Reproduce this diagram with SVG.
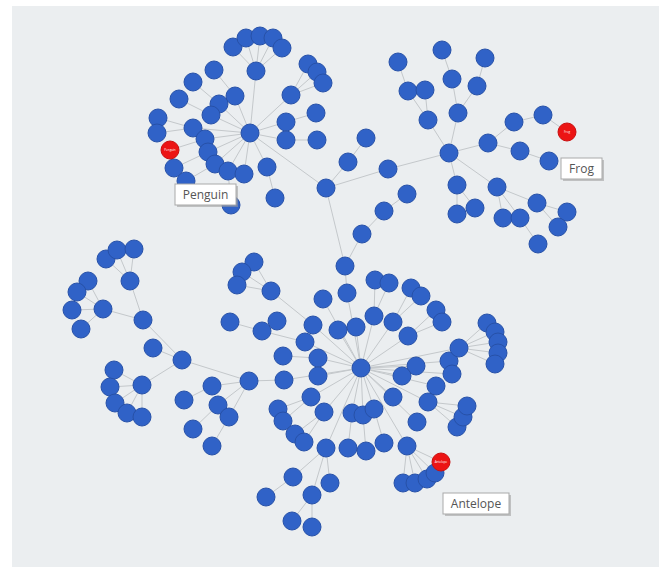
<svg xmlns="http://www.w3.org/2000/svg" width="665" height="567" viewBox="0 0 665 567">
<style>
.bg{fill:#ebeef0}
.edges line{stroke:#c4c8cb;stroke-width:1}
.node circle{fill:#3062c7;stroke:#2751a8;stroke-width:1}
.red circle{fill:#ec1414;stroke:#c90f0f;stroke-width:1}
.tiny{font-family:"Open Sans","Liberation Sans",sans-serif;font-size:3px;fill:#fff;text-anchor:middle}
.lbl rect.box{fill:#fff;stroke:#a9a9a9;stroke-width:1}
.lbl rect.sh{fill:#9a9a9a;opacity:0.55}
.lbl text{font-family:"Open Sans","Liberation Sans",sans-serif;font-size:12px;fill:#555;text-anchor:middle}
</style>
<rect x="0" y="0" width="665" height="567" fill="#fff"/>
<rect class="bg" x="12" y="6" width="647" height="561"/>
<g id="connectors" class="edges">
<line x1="250" y1="133" x2="256" y2="71"/><line x1="256" y1="71" x2="233" y2="47"/><line x1="256" y1="71" x2="246" y2="38"/><line x1="256" y1="71" x2="260" y2="36"/><line x1="256" y1="71" x2="273" y2="38"/><line x1="256" y1="71" x2="282" y2="48"/>
<line x1="250" y1="133" x2="291" y2="95"/><line x1="291" y1="95" x2="308" y2="64"/><line x1="291" y1="95" x2="317" y2="72"/><line x1="291" y1="95" x2="323" y2="83"/>
<line x1="250" y1="133" x2="286" y2="122"/><line x1="286" y1="122" x2="316" y2="113"/><line x1="250" y1="133" x2="286" y2="140"/><line x1="286" y1="140" x2="317" y2="140"/>
<line x1="250" y1="133" x2="235" y2="96"/><line x1="235" y1="96" x2="214" y2="70"/><line x1="250" y1="133" x2="219" y2="104"/><line x1="219" y1="104" x2="193" y2="82"/>
<line x1="250" y1="133" x2="211" y2="115"/><line x1="211" y1="115" x2="179" y2="99"/><line x1="250" y1="133" x2="193" y2="128"/><line x1="193" y1="128" x2="158" y2="118"/><line x1="193" y1="128" x2="157" y2="133"/>
<line x1="250" y1="133" x2="205" y2="139"/><line x1="205" y1="139" x2="170" y2="150"/><line x1="250" y1="133" x2="208" y2="152"/><line x1="208" y1="152" x2="174" y2="168"/>
<line x1="250" y1="133" x2="215" y2="164"/><line x1="215" y1="164" x2="186" y2="181"/><line x1="250" y1="133" x2="228" y2="171"/><line x1="228" y1="171" x2="231" y2="205"/>
<line x1="250" y1="133" x2="244" y2="174"/><line x1="250" y1="133" x2="267" y2="167"/><line x1="267" y1="167" x2="275" y2="198"/>
<line x1="250" y1="133" x2="326" y2="188"/><line x1="326" y1="188" x2="348" y2="162"/><line x1="348" y1="162" x2="366" y2="138"/><line x1="326" y1="188" x2="388" y2="169"/><line x1="388" y1="169" x2="449" y2="153"/>
<line x1="326" y1="188" x2="345" y2="266"/><line x1="345" y1="266" x2="362" y2="234"/><line x1="362" y1="234" x2="384" y2="211"/><line x1="384" y1="211" x2="407" y2="194"/><line x1="345" y1="266" x2="347" y2="293"/><line x1="347" y1="293" x2="361" y2="368"/>
<line x1="449" y1="153" x2="428" y2="120"/><line x1="428" y1="120" x2="408" y2="91"/><line x1="428" y1="120" x2="425" y2="90"/><line x1="408" y1="91" x2="398" y2="62"/>
<line x1="449" y1="153" x2="458" y2="113"/><line x1="458" y1="113" x2="452" y2="79"/><line x1="452" y1="79" x2="442" y2="50"/><line x1="458" y1="113" x2="477" y2="86"/><line x1="477" y1="86" x2="485" y2="58"/>
<line x1="449" y1="153" x2="488" y2="143"/><line x1="488" y1="143" x2="514" y2="122"/><line x1="514" y1="122" x2="543" y2="115"/><line x1="543" y1="115" x2="567" y2="132"/><line x1="488" y1="143" x2="520" y2="151"/><line x1="520" y1="151" x2="549" y2="161"/>
<line x1="449" y1="153" x2="457" y2="185"/><line x1="457" y1="185" x2="457" y2="214"/><line x1="457" y1="185" x2="475" y2="208"/>
<line x1="449" y1="153" x2="497" y2="187"/><line x1="497" y1="187" x2="503" y2="218"/><line x1="497" y1="187" x2="520" y2="218"/><line x1="497" y1="187" x2="537" y2="203"/><line x1="537" y1="203" x2="567" y2="212"/><line x1="537" y1="203" x2="558" y2="227"/><line x1="520" y1="218" x2="538" y2="244"/>
<line x1="254" y1="262" x2="271" y2="291"/><line x1="242" y1="272" x2="271" y2="291"/><line x1="237" y1="285" x2="271" y2="291"/><line x1="271" y1="291" x2="313" y2="325"/><line x1="313" y1="325" x2="361" y2="368"/>
<line x1="230" y1="322" x2="262" y2="331"/><line x1="277" y1="321" x2="262" y2="331"/><line x1="262" y1="331" x2="305" y2="342"/><line x1="305" y1="342" x2="361" y2="368"/>
<line x1="323" y1="299" x2="361" y2="368"/><line x1="338" y1="330" x2="361" y2="368"/><line x1="356" y1="327" x2="361" y2="368"/>
<line x1="283" y1="356" x2="318" y2="358"/><line x1="318" y1="358" x2="361" y2="368"/><line x1="318" y1="376" x2="361" y2="368"/>
<line x1="284" y1="380" x2="361" y2="368"/><line x1="249" y1="381" x2="284" y2="380"/>
<line x1="311" y1="397" x2="361" y2="368"/><line x1="311" y1="397" x2="278" y2="409"/><line x1="311" y1="397" x2="283" y2="421"/>
<line x1="324" y1="412" x2="361" y2="368"/><line x1="324" y1="412" x2="295" y2="434"/><line x1="324" y1="412" x2="304" y2="442"/>
<line x1="326" y1="448" x2="361" y2="368"/><line x1="326" y1="448" x2="293" y2="477"/><line x1="326" y1="448" x2="330" y2="483"/><line x1="326" y1="448" x2="312" y2="495"/><line x1="293" y1="477" x2="266" y2="497"/><line x1="312" y1="495" x2="292" y2="521"/><line x1="312" y1="495" x2="312" y2="527"/>
<line x1="352" y1="413" x2="361" y2="368"/><line x1="348" y1="448" x2="352" y2="413"/><line x1="363" y1="415" x2="361" y2="368"/><line x1="366" y1="451" x2="363" y2="415"/>
<line x1="374" y1="409" x2="361" y2="368"/><line x1="384" y1="443" x2="374" y2="409"/><line x1="393" y1="397" x2="361" y2="368"/>
<line x1="407" y1="446" x2="361" y2="368"/><line x1="407" y1="446" x2="441" y2="462"/><line x1="407" y1="446" x2="435" y2="473"/><line x1="407" y1="446" x2="427" y2="479"/><line x1="407" y1="446" x2="415" y2="483"/><line x1="407" y1="446" x2="403" y2="483"/>
<line x1="417" y1="422" x2="361" y2="368"/><line x1="428" y1="402" x2="361" y2="368"/><line x1="428" y1="402" x2="467" y2="406"/><line x1="428" y1="402" x2="463" y2="417"/><line x1="428" y1="402" x2="457" y2="427"/>
<line x1="436" y1="386" x2="361" y2="368"/><line x1="416" y1="366" x2="361" y2="368"/><line x1="402" y1="376" x2="361" y2="368"/>
<line x1="459" y1="348" x2="361" y2="368"/><line x1="459" y1="348" x2="487" y2="323"/><line x1="459" y1="348" x2="495" y2="332"/><line x1="459" y1="348" x2="498" y2="342"/><line x1="459" y1="348" x2="498" y2="353"/><line x1="459" y1="348" x2="495" y2="364"/>
<line x1="449" y1="361" x2="361" y2="368"/><line x1="452" y1="374" x2="361" y2="368"/>
<line x1="375" y1="280" x2="374" y2="316"/><line x1="389" y1="283" x2="374" y2="316"/><line x1="374" y1="316" x2="361" y2="368"/>
<line x1="411" y1="288" x2="393" y2="322"/><line x1="421" y1="296" x2="393" y2="322"/><line x1="393" y1="322" x2="361" y2="368"/>
<line x1="436" y1="310" x2="408" y2="336"/><line x1="442" y1="322" x2="408" y2="336"/><line x1="408" y1="336" x2="361" y2="368"/>
<line x1="249" y1="381" x2="212" y2="386"/><line x1="212" y1="386" x2="184" y2="400"/><line x1="249" y1="381" x2="218" y2="405"/><line x1="218" y1="405" x2="193" y2="429"/><line x1="249" y1="381" x2="229" y2="417"/><line x1="229" y1="417" x2="212" y2="446"/>
<line x1="249" y1="381" x2="182" y2="360"/><line x1="182" y1="360" x2="153" y2="348"/><line x1="182" y1="360" x2="142" y2="385"/><line x1="142" y1="385" x2="114" y2="370"/><line x1="142" y1="385" x2="110" y2="387"/><line x1="142" y1="385" x2="115" y2="403"/><line x1="142" y1="385" x2="127" y2="413"/><line x1="142" y1="385" x2="142" y2="417"/>
<line x1="182" y1="360" x2="143" y2="320"/><line x1="143" y1="320" x2="130" y2="281"/><line x1="130" y1="281" x2="106" y2="259"/><line x1="130" y1="281" x2="117" y2="250"/><line x1="130" y1="281" x2="134" y2="249"/>
<line x1="143" y1="320" x2="103" y2="309"/><line x1="103" y1="309" x2="88" y2="281"/><line x1="103" y1="309" x2="77" y2="292"/><line x1="103" y1="309" x2="72" y2="310"/><line x1="103" y1="309" x2="81" y2="329"/>
</g>
<g id="nodes">
<g id="a0" class="node"><circle cx="250" cy="133" r="9"/></g>
<g id="a1" class="node"><circle cx="256" cy="71" r="9"/></g>
<g id="a2" class="node"><circle cx="233" cy="47" r="9"/></g>
<g id="a3" class="node"><circle cx="246" cy="38" r="9"/></g>
<g id="a4" class="node"><circle cx="260" cy="36" r="9"/></g>
<g id="a5" class="node"><circle cx="273" cy="38" r="9"/></g>
<g id="a6" class="node"><circle cx="282" cy="48" r="9"/></g>
<g id="a7" class="node"><circle cx="291" cy="95" r="9"/></g>
<g id="a8" class="node"><circle cx="308" cy="64" r="9"/></g>
<g id="a9" class="node"><circle cx="317" cy="72" r="9"/></g>
<g id="a10" class="node"><circle cx="323" cy="83" r="9"/></g>
<g id="a11" class="node"><circle cx="286" cy="122" r="9"/></g>
<g id="a12" class="node"><circle cx="316" cy="113" r="9"/></g>
<g id="a13" class="node"><circle cx="286" cy="140" r="9"/></g>
<g id="a14" class="node"><circle cx="317" cy="140" r="9"/></g>
<g id="a16" class="node"><circle cx="214" cy="70" r="9"/></g>
<g id="a18" class="node"><circle cx="193" cy="82" r="9"/></g>
<g id="a20" class="node"><circle cx="179" cy="99" r="9"/></g>
<g id="a15" class="node"><circle cx="235" cy="96" r="9"/></g>
<g id="a17" class="node"><circle cx="219" cy="104" r="9"/></g>
<g id="a19" class="node"><circle cx="211" cy="115" r="9"/></g>
<g id="a22" class="node"><circle cx="158" cy="118" r="9"/></g>
<g id="a23" class="node"><circle cx="157" cy="133" r="9"/></g>
<g id="a21" class="node"><circle cx="193" cy="128" r="9"/></g>
<g id="a24" class="node"><circle cx="205" cy="139" r="9"/></g>
<g id="a26" class="node"><circle cx="208" cy="152" r="9"/></g>
<g id="a27" class="node"><circle cx="174" cy="168" r="9"/></g>
<g id="a28" class="node"><circle cx="215" cy="164" r="9"/></g>
<g id="a29" class="node"><circle cx="186" cy="181" r="9"/></g>
<g id="a30" class="node"><circle cx="228" cy="171" r="9"/></g>
<g id="a31" class="node"><circle cx="231" cy="205" r="9"/></g>
<g id="a32" class="node"><circle cx="244" cy="174" r="9"/></g>
<g id="a33" class="node"><circle cx="267" cy="167" r="9"/></g>
<g id="a34" class="node"><circle cx="275" cy="198" r="9"/></g>
<g id="a25" class="red"><circle cx="170" cy="150" r="9"/><text class="tiny" x="170" y="151">Penguin</text></g>
<g id="h0" class="node"><circle cx="326" cy="188" r="9"/></g>
<g id="h1" class="node"><circle cx="348" cy="162" r="9"/></g>
<g id="h2" class="node"><circle cx="366" cy="138" r="9"/></g>
<g id="h3" class="node"><circle cx="388" cy="169" r="9"/></g>
<g id="h4" class="node"><circle cx="345" cy="266" r="9"/></g>
<g id="h5" class="node"><circle cx="362" cy="234" r="9"/></g>
<g id="h6" class="node"><circle cx="384" cy="211" r="9"/></g>
<g id="h7" class="node"><circle cx="407" cy="194" r="9"/></g>
<g id="h8" class="node"><circle cx="347" cy="293" r="9"/></g>
<g id="b0" class="node"><circle cx="449" cy="153" r="9"/></g>
<g id="b1" class="node"><circle cx="428" cy="120" r="9"/></g>
<g id="b2" class="node"><circle cx="408" cy="91" r="9"/></g>
<g id="b3" class="node"><circle cx="425" cy="90" r="9"/></g>
<g id="b4" class="node"><circle cx="398" cy="62" r="9"/></g>
<g id="b5" class="node"><circle cx="458" cy="113" r="9"/></g>
<g id="b6" class="node"><circle cx="452" cy="79" r="9"/></g>
<g id="b7" class="node"><circle cx="442" cy="50" r="9"/></g>
<g id="b8" class="node"><circle cx="477" cy="86" r="9"/></g>
<g id="b9" class="node"><circle cx="485" cy="58" r="9"/></g>
<g id="b10" class="node"><circle cx="488" cy="143" r="9"/></g>
<g id="b11" class="node"><circle cx="514" cy="122" r="9"/></g>
<g id="b12" class="node"><circle cx="543" cy="115" r="9"/></g>
<g id="b14" class="node"><circle cx="520" cy="151" r="9"/></g>
<g id="b15" class="node"><circle cx="549" cy="161" r="9"/></g>
<g id="b16" class="node"><circle cx="457" cy="185" r="9"/></g>
<g id="b17" class="node"><circle cx="457" cy="214" r="9"/></g>
<g id="b18" class="node"><circle cx="475" cy="208" r="9"/></g>
<g id="b19" class="node"><circle cx="497" cy="187" r="9"/></g>
<g id="b20" class="node"><circle cx="503" cy="218" r="9"/></g>
<g id="b21" class="node"><circle cx="520" cy="218" r="9"/></g>
<g id="b22" class="node"><circle cx="537" cy="203" r="9"/></g>
<g id="b23" class="node"><circle cx="567" cy="212" r="9"/></g>
<g id="b24" class="node"><circle cx="558" cy="227" r="9"/></g>
<g id="b25" class="node"><circle cx="538" cy="244" r="9"/></g>
<g id="b13" class="red"><circle cx="567" cy="132" r="9"/><text class="tiny" x="567" y="133">Frog</text></g>
<g id="m0" class="node"><circle cx="361" cy="368" r="9"/></g>
<g id="c1" class="node"><circle cx="254" cy="262" r="9"/></g>
<g id="c2" class="node"><circle cx="242" cy="272" r="9"/></g>
<g id="c3" class="node"><circle cx="237" cy="285" r="9"/></g>
<g id="c4" class="node"><circle cx="271" cy="291" r="9"/></g>
<g id="c5" class="node"><circle cx="313" cy="325" r="9"/></g>
<g id="c7" class="node"><circle cx="230" cy="322" r="9"/></g>
<g id="c9" class="node"><circle cx="277" cy="321" r="9"/></g>
<g id="c8" class="node"><circle cx="262" cy="331" r="9"/></g>
<g id="c6" class="node"><circle cx="305" cy="342" r="9"/></g>
<g id="c10" class="node"><circle cx="323" cy="299" r="9"/></g>
<g id="c11" class="node"><circle cx="338" cy="330" r="9"/></g>
<g id="c12" class="node"><circle cx="356" cy="327" r="9"/></g>
<g id="c13" class="node"><circle cx="283" cy="356" r="9"/></g>
<g id="c14" class="node"><circle cx="318" cy="358" r="9"/></g>
<g id="c15" class="node"><circle cx="318" cy="376" r="9"/></g>
<g id="c16" class="node"><circle cx="284" cy="380" r="9"/></g>
<g id="c17" class="node"><circle cx="311" cy="397" r="9"/></g>
<g id="c18" class="node"><circle cx="278" cy="409" r="9"/></g>
<g id="c19" class="node"><circle cx="283" cy="421" r="9"/></g>
<g id="c20" class="node"><circle cx="324" cy="412" r="9"/></g>
<g id="c21" class="node"><circle cx="295" cy="434" r="9"/></g>
<g id="c22" class="node"><circle cx="304" cy="442" r="9"/></g>
<g id="c23" class="node"><circle cx="326" cy="448" r="9"/></g>
<g id="c24" class="node"><circle cx="293" cy="477" r="9"/></g>
<g id="c25" class="node"><circle cx="330" cy="483" r="9"/></g>
<g id="c26" class="node"><circle cx="312" cy="495" r="9"/></g>
<g id="c27" class="node"><circle cx="266" cy="497" r="9"/></g>
<g id="c28" class="node"><circle cx="292" cy="521" r="9"/></g>
<g id="c29" class="node"><circle cx="312" cy="527" r="9"/></g>
<g id="c30" class="node"><circle cx="352" cy="413" r="9"/></g>
<g id="c32" class="node"><circle cx="363" cy="415" r="9"/></g>
<g id="c34" class="node"><circle cx="374" cy="409" r="9"/></g>
<g id="c31" class="node"><circle cx="348" cy="448" r="9"/></g>
<g id="c33" class="node"><circle cx="366" cy="451" r="9"/></g>
<g id="c35" class="node"><circle cx="384" cy="443" r="9"/></g>
<g id="c36" class="node"><circle cx="393" cy="397" r="9"/></g>
<g id="c37" class="node"><circle cx="407" cy="446" r="9"/></g>
<g id="c42" class="node"><circle cx="403" cy="483" r="9"/></g>
<g id="c41" class="node"><circle cx="415" cy="483" r="9"/></g>
<g id="c40" class="node"><circle cx="427" cy="479" r="9"/></g>
<g id="c39" class="node"><circle cx="435" cy="473" r="9"/></g>
<g id="c38" class="red"><circle cx="441" cy="462" r="9"/><text class="tiny" x="441" y="463">Antelope</text></g>
<g id="c43" class="node"><circle cx="417" cy="422" r="9"/></g>
<g id="c44" class="node"><circle cx="428" cy="402" r="9"/></g>
<g id="c47" class="node"><circle cx="457" cy="427" r="9"/></g>
<g id="c46" class="node"><circle cx="463" cy="417" r="9"/></g>
<g id="c45" class="node"><circle cx="467" cy="406" r="9"/></g>
<g id="c48" class="node"><circle cx="436" cy="386" r="9"/></g>
<g id="c49" class="node"><circle cx="416" cy="366" r="9"/></g>
<g id="c50" class="node"><circle cx="402" cy="376" r="9"/></g>
<g id="c57" class="node"><circle cx="449" cy="361" r="9"/></g>
<g id="c58" class="node"><circle cx="452" cy="374" r="9"/></g>
<g id="c51" class="node"><circle cx="459" cy="348" r="9"/></g>
<g id="c52" class="node"><circle cx="487" cy="323" r="9"/></g>
<g id="c53" class="node"><circle cx="495" cy="332" r="9"/></g>
<g id="c54" class="node"><circle cx="498" cy="342" r="9"/></g>
<g id="c55" class="node"><circle cx="498" cy="353" r="9"/></g>
<g id="c56" class="node"><circle cx="495" cy="364" r="9"/></g>
<g id="c59" class="node"><circle cx="375" cy="280" r="9"/></g>
<g id="c60" class="node"><circle cx="389" cy="283" r="9"/></g>
<g id="c61" class="node"><circle cx="374" cy="316" r="9"/></g>
<g id="c62" class="node"><circle cx="411" cy="288" r="9"/></g>
<g id="c63" class="node"><circle cx="421" cy="296" r="9"/></g>
<g id="c64" class="node"><circle cx="393" cy="322" r="9"/></g>
<g id="c65" class="node"><circle cx="436" cy="310" r="9"/></g>
<g id="c66" class="node"><circle cx="442" cy="322" r="9"/></g>
<g id="c67" class="node"><circle cx="408" cy="336" r="9"/></g>
<g id="l0" class="node"><circle cx="249" cy="381" r="9"/></g>
<g id="l1" class="node"><circle cx="212" cy="386" r="9"/></g>
<g id="l2" class="node"><circle cx="184" cy="400" r="9"/></g>
<g id="l3" class="node"><circle cx="218" cy="405" r="9"/></g>
<g id="l4" class="node"><circle cx="193" cy="429" r="9"/></g>
<g id="l5" class="node"><circle cx="229" cy="417" r="9"/></g>
<g id="l6" class="node"><circle cx="212" cy="446" r="9"/></g>
<g id="l7" class="node"><circle cx="182" cy="360" r="9"/></g>
<g id="l8" class="node"><circle cx="153" cy="348" r="9"/></g>
<g id="l10" class="node"><circle cx="114" cy="370" r="9"/></g>
<g id="l11" class="node"><circle cx="110" cy="387" r="9"/></g>
<g id="l12" class="node"><circle cx="115" cy="403" r="9"/></g>
<g id="l13" class="node"><circle cx="127" cy="413" r="9"/></g>
<g id="l14" class="node"><circle cx="142" cy="417" r="9"/></g>
<g id="l9" class="node"><circle cx="142" cy="385" r="9"/></g>
<g id="l15" class="node"><circle cx="143" cy="320" r="9"/></g>
<g id="l17" class="node"><circle cx="106" cy="259" r="9"/></g>
<g id="l18" class="node"><circle cx="117" cy="250" r="9"/></g>
<g id="l19" class="node"><circle cx="134" cy="249" r="9"/></g>
<g id="l16" class="node"><circle cx="130" cy="281" r="9"/></g>
<g id="l21" class="node"><circle cx="88" cy="281" r="9"/></g>
<g id="l22" class="node"><circle cx="77" cy="292" r="9"/></g>
<g id="l23" class="node"><circle cx="72" cy="310" r="9"/></g>
<g id="l24" class="node"><circle cx="81" cy="329" r="9"/></g>
<g id="l20" class="node"><circle cx="103" cy="309" r="9"/></g>
</g>
<g id="label-penguin" class="lbl"><rect class="sh" x="177" y="186" width="61" height="21"/><rect class="box" x="175" y="184" width="61" height="21"/><text x="205.5" y="198.5">Penguin</text></g>
<g id="label-frog" class="lbl"><rect class="sh" x="563" y="160" width="41" height="21"/><rect class="box" x="561" y="158" width="41" height="21"/><text x="581.5" y="172.5">Frog</text></g>
<g id="label-antelope" class="lbl"><rect class="sh" x="445" y="495" width="66" height="21"/><rect class="box" x="443" y="493" width="66" height="21"/><text x="476" y="507.5">Antelope</text></g>
</svg>
